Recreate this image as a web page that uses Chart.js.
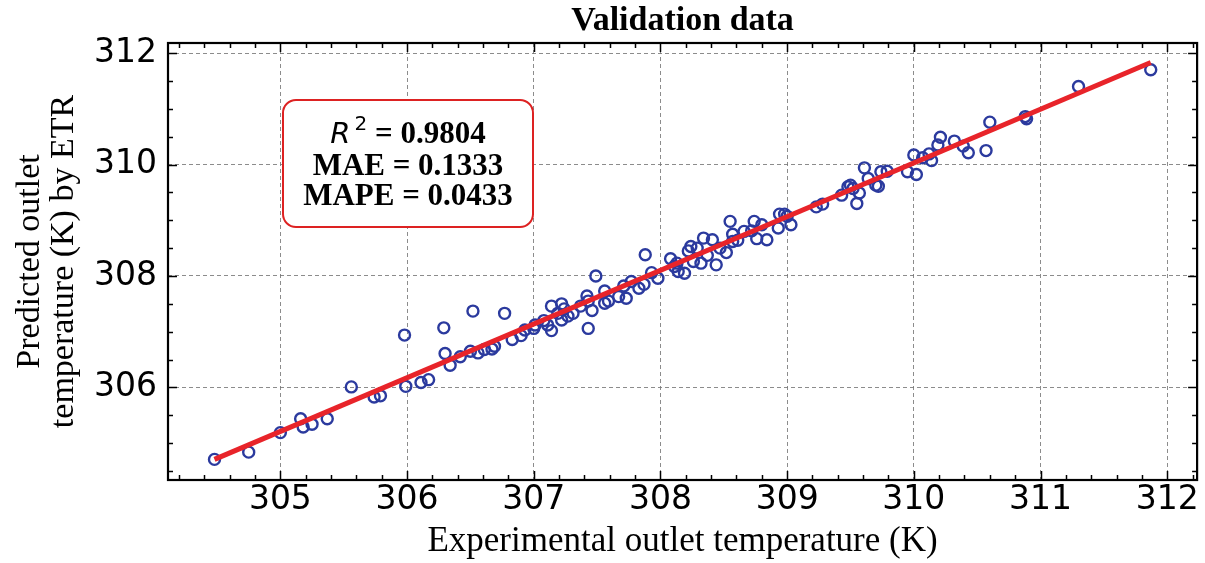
<!DOCTYPE html>
<html>
<head>
<meta charset="utf-8">
<script src="https://cdn.jsdelivr.net/npm/chart.js@4/dist/chart.umd.min.js"></script>
<style>
  html, body { margin: 0; padding: 0; background: #fff; }
  #wrap { width: 1205px; height: 563px; }
</style>
</head>
<body>
<div id="wrap"><canvas id="chart" width="1205" height="563"></canvas></div>
<script>
// experimental vs predicted outlet temperature (K)
const expX = [
  304.48, 304.75, 305.00, 305.16, 305.18, 305.25, 305.37, 305.56, 305.74, 305.79,
  305.98, 305.99, 306.11, 306.17, 306.29, 306.30, 306.34, 306.42, 306.50, 306.52,
  306.56, 306.61, 306.67, 306.69, 306.77, 306.83, 306.90, 306.93, 307.00, 307.01,
  307.08, 307.11, 307.14, 307.14, 307.19, 307.22, 307.22, 307.24, 307.27, 307.31,
  307.37, 307.42, 307.43, 307.43, 307.46, 307.49, 307.56, 307.56, 307.59, 307.67,
  307.71, 307.73, 307.77, 307.83, 307.87, 307.88, 307.93, 307.98, 308.08, 308.13,
  308.14, 308.11, 308.19, 308.22, 308.24, 308.26, 308.29, 308.32, 308.34, 308.37,
  308.41, 308.44, 308.47, 308.52, 308.55, 308.57, 308.57, 308.61, 308.66, 308.72,
  308.74, 308.76, 308.80, 308.84, 308.93, 308.94, 308.98, 309.00, 309.03, 309.23,
  309.28, 309.43, 309.48, 309.50, 309.52, 309.55, 309.57, 309.61, 309.64, 309.70,
  309.72, 309.74, 309.79, 309.95, 310.00, 310.02, 310.07, 310.12, 310.14, 310.19,
  310.21, 310.32, 310.39, 310.43, 310.57, 310.60, 310.88, 310.89, 311.30, 311.87
];
const predY = [
  304.71, 304.84, 305.19, 305.44, 305.29, 305.34, 305.44, 306.01, 305.83, 305.85,
  306.94, 306.02, 306.09, 306.14, 307.07, 306.61, 306.40, 306.55, 306.65, 307.37,
  306.62, 306.68, 306.69, 306.74, 307.33, 306.86, 306.93, 307.03, 307.06, 307.12,
  307.20, 307.12, 307.46, 307.02, 307.33, 307.50, 307.21, 307.41, 307.28, 307.33,
  307.46, 307.64, 307.55, 307.06, 307.38, 308.00, 307.73, 307.51, 307.55, 307.63,
  307.82, 307.60, 307.90, 307.78, 307.85, 308.38, 308.06, 307.96, 308.31, 308.23,
  308.08, 308.17, 308.05, 308.45, 308.53, 308.26, 308.50, 308.23, 308.68, 308.37,
  308.65, 308.20, 308.50, 308.42, 308.98, 308.75, 308.62, 308.64, 308.80, 308.81,
  308.98, 308.67, 308.92, 308.65, 308.86, 309.11, 309.11, 309.07, 308.92, 309.24,
  309.29, 309.45, 309.60, 309.63, 309.57, 309.30, 309.49, 309.94, 309.75, 309.63,
  309.61, 309.87, 309.88, 309.87, 310.17, 309.82, 310.12, 310.19, 310.07, 310.35,
  310.49, 310.42, 310.33, 310.21, 310.25, 310.76, 310.86, 310.82, 311.40, 311.70
];
// fitted line end points
const fitX = [304.48, 311.87];
const fitY = [304.71, 311.83];

const xTicks = [305, 306, 307, 308, 309, 310, 311, 312];
const yTicks = [306, 308, 310, 312];
const statLines = ['= 0.9804', 'MAE = 0.1333', 'MAPE = 0.0433'];

const serif = "'Liberation Serif', 'Times New Roman', serif";
const sans = "'DejaVu Sans', sans-serif";

// frame, inward ticks on all sides, and the stats box
const framePlugin = {
  id: 'frame',
  afterDatasetsDraw(chart) {
    const { ctx, chartArea: a } = chart;
    const xs = chart.scales.x, ys = chart.scales.y;
    ctx.save();
    ctx.strokeStyle = '#000';
    ctx.lineWidth = 1.5;
    ctx.beginPath();
    // x ticks (major 1, minor 0.2)
    for (let v = Math.ceil(xs.min * 5) / 5; v <= xs.max + 1e-9; v += 0.2) {
      const val = Math.round(v * 10) / 10;
      const px = Math.round(xs.getPixelForValue(val)) + 0.5;
      const major = Math.abs(val - Math.round(val)) < 1e-6;
      const len = major ? 9 : 5;
      ctx.moveTo(px, a.bottom); ctx.lineTo(px, a.bottom - len);
      ctx.moveTo(px, a.top); ctx.lineTo(px, a.top + len);
    }
    // y ticks (major 2, minor 0.5)
    for (let v = Math.ceil(ys.min * 2) / 2; v <= ys.max + 1e-9; v += 0.5) {
      const py = Math.round(ys.getPixelForValue(v)) + 0.5;
      const major = Math.abs(v / 2 - Math.round(v / 2)) < 1e-6;
      const len = major ? 9 : 5;
      ctx.moveTo(a.left, py); ctx.lineTo(a.left + len, py);
      ctx.moveTo(a.right, py); ctx.lineTo(a.right - len, py);
    }
    ctx.stroke();
    ctx.lineWidth = 2.2;
    ctx.strokeRect(a.left, a.top, a.right - a.left, a.bottom - a.top);

    // stats box
    const bx = a.left + 115, by = a.top + 57, bw = 250, bh = 127, r = 13;
    ctx.beginPath();
    ctx.roundRect(bx, by, bw, bh, r);
    ctx.fillStyle = '#fff';
    ctx.fill();
    ctx.strokeStyle = '#dd2222';
    ctx.lineWidth = 2;
    ctx.stroke();

    const cx = bx + bw / 2;
    ctx.fillStyle = '#000';
    ctx.textBaseline = 'alphabetic';
    // R^2 line
    const fR = 'oblique 29px ' + sans, f2 = '20px ' + sans, fB = 'bold 31px ' + serif;
    ctx.font = fR; const wR = ctx.measureText('R').width;
    ctx.font = f2; const w2 = ctx.measureText('2').width;
    ctx.font = fB; const wT = ctx.measureText(' ' + statLines[0]).width;
    let x0 = cx - (wR + 4 + w2 + wT) / 2;
    const base1 = by + 43;
    ctx.textAlign = 'left';
    ctx.font = fR; ctx.fillText('R', x0, base1);
    ctx.font = f2; ctx.fillText('2', x0 + wR + 4, base1 - 13);
    ctx.font = fB; ctx.fillText(' ' + statLines[0], x0 + wR + 4 + w2, base1);
    ctx.textAlign = 'center';
    ctx.fillText(statLines[1], cx, base1 + 32);
    ctx.fillText(statLines[2], cx, base1 + 62);
    ctx.restore();
  }
};

const ctx = document.getElementById('chart').getContext('2d');
new Chart(ctx, {
  type: 'scatter',
  data: {
    datasets: [
      {
        label: 'fit',
        data: fitX.map((x, i) => ({ x: x, y: fitY[i] })),
        showLine: true,
        borderColor: '#e8242a',
        borderWidth: 5,
        pointRadius: 0,
        order: 0
      },
      {
        label: 'validation',
        data: expX.map((x, i) => ({ x: x, y: predY[i] })),
        pointRadius: 5.5,
        pointBorderWidth: 2.4,
        pointBorderColor: '#2b3a9e',
        pointBackgroundColor: 'rgba(255,255,255,0)',
        order: 1
      }
    ]
  },
  options: {
    responsive: false,
    animation: false,
    events: [],
    layout: { padding: { left: 0, right: 7, top: 0, bottom: 0 } },
    plugins: {
      legend: { display: false },
      tooltip: { enabled: false },
      title: {
        display: true,
        text: 'Validation data',
        fullSize: false,
        color: '#000',
        font: { family: serif, size: 34, weight: 'bold', lineHeight: 1.1 },
        padding: { top: 3, bottom: 2.6 }
      }
    },
    scales: {
      x: {
        type: 'linear',
        min: 304.113,
        max: 312.236,
        afterFit(scale) { scale.height = 83; },
        afterBuildTicks(scale) { scale.ticks = xTicks.map(v => ({ value: v })); },
        ticks: {
          color: '#000',
          padding: 1,
          font: { family: sans, size: 33 },
          callback: v => String(v)
        },
        grid: { color: 'rgba(120,120,120,0.85)', lineWidth: 1, drawTicks: false },
        border: { display: false, dash: [4, 3] },
        title: {
          display: true,
          text: 'Experimental outlet temperature (K)',
          color: '#000',
          font: { family: serif, size: 35, lineHeight: 1.2 },
          padding: { top: 0, bottom: 0 }
        }
      },
      y: {
        type: 'linear',
        min: 304.34,
        max: 312.18,
        afterFit(scale) { scale.width = 168; },
        afterBuildTicks(scale) { scale.ticks = yTicks.map(v => ({ value: v })); },
        ticks: {
          color: '#000',
          padding: 11,
          font: { family: sans, size: 33 },
          callback: v => String(v)
        },
        grid: { color: 'rgba(120,120,120,0.85)', lineWidth: 1, drawTicks: false },
        border: { display: false, dash: [4, 3] },
        title: {
          display: true,
          text: ['Predicted outlet', 'temperature (K) by ETR'],
          color: '#000',
          font: { family: serif, size: 34, lineHeight: 1.0 },
          padding: { top: 13, bottom: 0 }
        }
      }
    }
  },
  plugins: [framePlugin]
});
</script>
</body>
</html>
